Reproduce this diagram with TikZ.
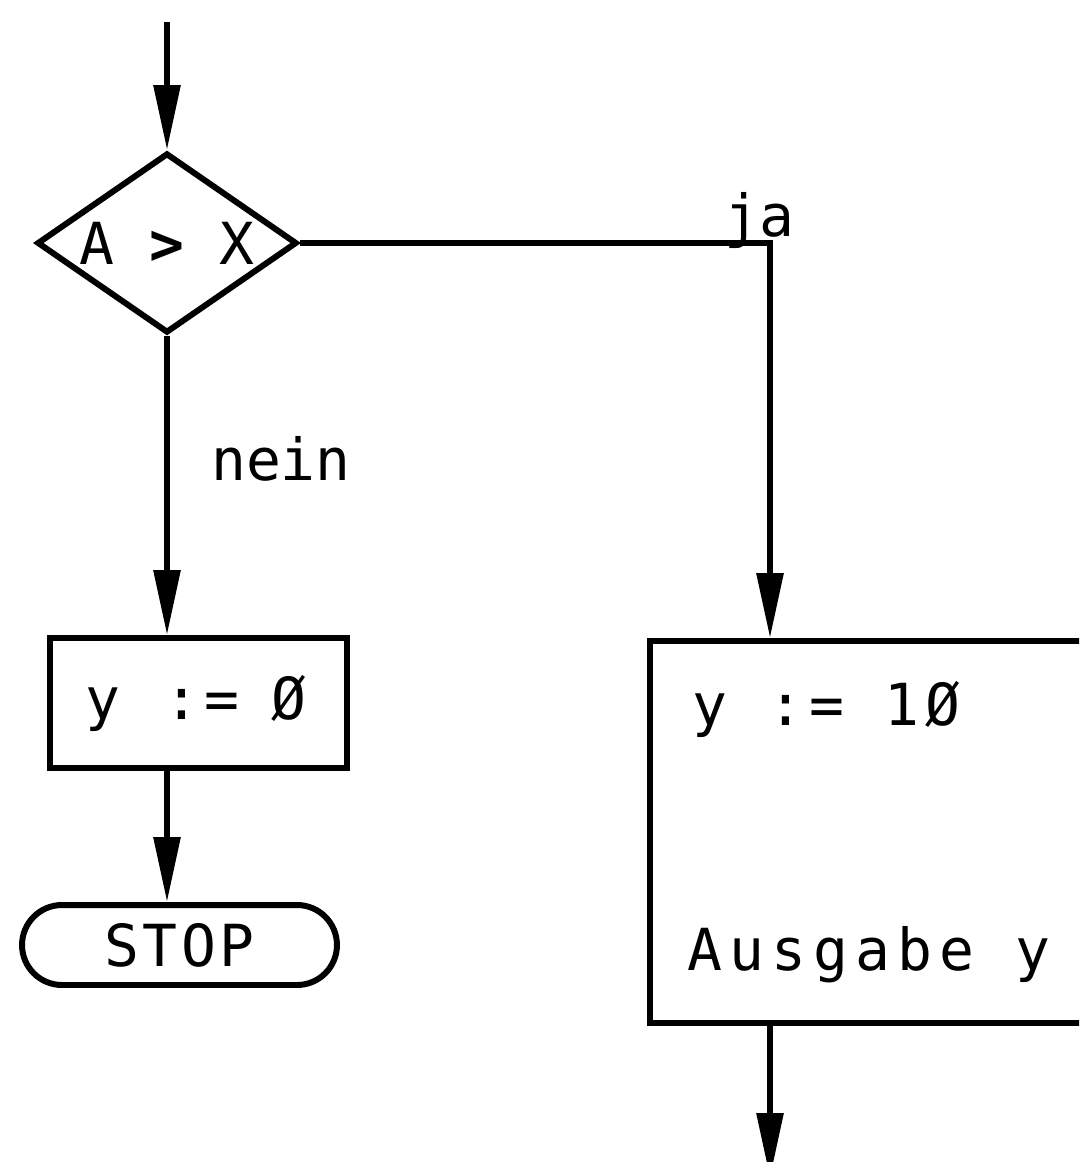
\documentclass[tikz,border=0pt]{standalone}
\usepackage{fontspec}
\newfontfamily\plotfont{DejaVu Sans Mono}
\usetikzlibrary{shapes.geometric,shapes.misc,arrows.meta}
\begin{document}
\begin{tikzpicture}[x=0.02cm,y=-0.02cm,
  line width=3.4pt,
  pfont/.style={font=\plotfont\fontsize{33}{40}\selectfont},
  txt/.style={pfont, inner sep=0pt},
  decision/.style={draw, diamond, aspect=1.444, minimum width=5.2cm, minimum height=3.6cm, inner sep=0pt, pfont},
  procbox/.style={draw, rectangle, pfont},
  terminal/.style={draw, rounded rectangle, minimum width=6.3cm, minimum height=1.6cm, inner sep=0pt, pfont},
  flow/.style={-{Triangle[length=1.3cm,width=0.52cm]}}]
\useasboundingbox (0,0) rectangle (1079,1162);
\clip (0,0) rectangle (1079,1162);
\fill[white] (0,0) rectangle (1079,1162);

\coordinate (start) at (167,22);
\node[decision] (dia) at (167,243) {A {\bfseries >} X};
\node[procbox, minimum width=5.94cm, minimum height=2.6cm, text width=4.54cm, inner xsep=0.7cm, inner ysep=0pt, align=left,
      font=\plotfont\fontsize{33}{40}\selectfont\addfontfeatures{LetterSpace=10}] (b1) at (198.5,703) {y\hspace{0.5cm} :=\hspace{0.25cm} Ø};
\node[terminal, font=\plotfont\fontsize{33}{40}\selectfont\addfontfeatures{LetterSpace=6}] (stop) at (179.5,945) {STOP\hspace{0.3cm}};
\node[procbox, minimum width=9.2cm, minimum height=7.64cm] (b2) at (880,832) {};
\node[txt, anchor=base west, font=\plotfont\fontsize{33}{40}\selectfont\addfontfeatures{LetterSpace=10}] (t1) at (690,725) {y := 1Ø};
\node[txt, anchor=base west, font=\plotfont\fontsize{33}{40}\selectfont\addfontfeatures{LetterSpace=12}] (t2) at (685,970) {Ausgabe y};
\coordinate (col) at (770,0);
\coordinate (out) at (770,1178);
\node[txt, anchor=base] (ja) at (759,236) {ja};
\node[txt, anchor=base] (nein) at (281,480) {nein};

\draw[flow] (start) -- (dia.north);
\draw[flow] (dia.south) -- (dia.south |- b1.north);
\draw[flow] (b1.south -| dia.south) -- (stop.north -| dia.south);
\draw[flow] (dia.east) -| (col |- b2.north);
\draw[flow] (col |- b2.south) -- (out);
\end{tikzpicture}
\end{document}
